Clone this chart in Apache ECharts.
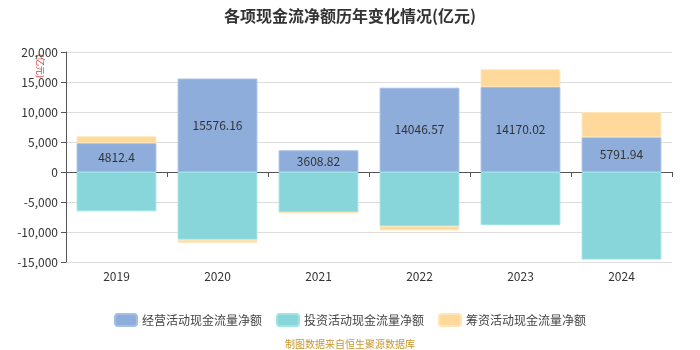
<!DOCTYPE html>
<html><head><meta charset="utf-8">
<script src="https://cdn.jsdelivr.net/npm/echarts@6/dist/echarts.min.js"></script>
<style>html,body{margin:0;padding:0;background:#fff}#c{width:700px;height:350px}</style>
</head><body><div id="c"></div>
<script>
var years = ['2019','2020','2021','2022','2023','2024'];
var operating = [4812.4, 15576.16, 3608.82, 14046.57, 14170.02, 5791.94];
var investing = [-6560, -11280, -6720, -9060, -8830, -14600];
var financing = [1130, -500, -110, -660, 2950, 4200];
var seriesNames = ['经营活动现金流量净额','投资活动现金流量净额','筹资活动现金流量净额'];
var colors = ['#8eaddb','#88d6d9','#fed99b'];

var chart = echarts.init(document.getElementById('c'));
var font = '"Microsoft YaHei","Noto Sans CJK SC",sans-serif';
chart.setOption({
  animation: false,
  textStyle: {fontFamily: font},
  title: {text: '各项现金流净额历年变化情况(亿元)', left: 'center', top: 3,
    textStyle: {fontSize: 16, fontWeight: 'bold', color: '#333', fontFamily: font}},
  grid: {left: 66, right: 28, top: 52, bottom: 88, containLabel: false, outerBoundsMode: 'none'},
  legend: {bottom: 18, itemWidth: 22, itemHeight: 12, itemGap: 14,
    textStyle: {fontSize: 12, color: '#444'}, data: seriesNames},
  graphic: [
    {type: 'text', left: 'center', top: 339, style: {text: '制图数据来自恒生聚源数据库', fill: '#c8962e', fontSize: 10, fontFamily: font}},
    {type: 'text', x: 45, y: 54, rotation: -Math.PI/2, style: {text: '(亿元)', fill: '#e03030', fontSize: 9, fontFamily: font}}
  ],
  xAxis: [
    {type: 'category', data: years, position: 'bottom',
      axisLine: {show: false, onZero: false}, axisTick: {show: false},
      axisLabel: {color: '#333', fontSize: 12, margin: 8}},
    {type: 'category', data: years, position: 'bottom',
      axisLine: {show: true, onZero: true, lineStyle: {color: '#555'}},
      axisTick: {show: true, lineStyle: {color: '#555'}},
      axisLabel: {show: false}}
  ],
  yAxis: {type: 'value', min: -15000, max: 20000, interval: 5000,
    axisLine: {show: true, lineStyle: {color: '#555'}},
    axisTick: {show: true, lineStyle: {color: '#555'}},
    splitLine: {lineStyle: {color: '#ddd'}},
    axisLabel: {color: '#333', fontSize: 12, formatter: function(v){return v.toLocaleString('en-US');}}},
  series: [
    {name: seriesNames[0], type: 'bar', stack: 'a', data: operating, barWidth: '79%',
      itemStyle: {color: colors[0], borderColor: '#a3bfe6', borderWidth: 1},
      label: {show: true, position: 'inside', color: '#333', fontSize: 12}},
    {name: seriesNames[1], type: 'bar', stack: 'a', data: investing,
      itemStyle: {color: colors[1], borderColor: '#9ee3e5', borderWidth: 1}},
    {name: seriesNames[2], type: 'bar', stack: 'a', data: financing,
      itemStyle: {color: colors[2], borderColor: '#ffe5b5', borderWidth: 1}}
  ]
});
</script></body></html>
